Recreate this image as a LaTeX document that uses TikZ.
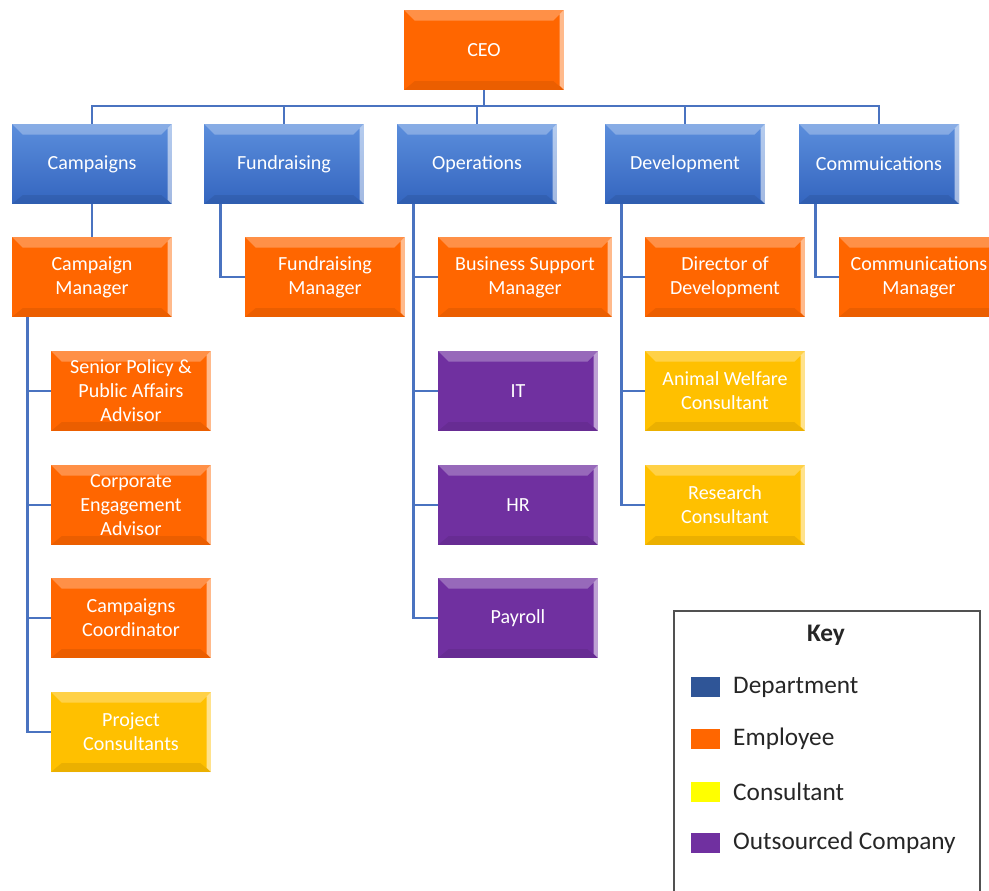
\documentclass[tikz,border=0pt]{standalone}
\usepackage{fontspec}
\setmainfont{Carlito}
\usetikzlibrary{positioning}

\definecolor{depttop}{HTML}{5B8EDC}
\definecolor{deptbot}{HTML}{3465BF}
\definecolor{emporange}{HTML}{FF6600}
\definecolor{consamber}{HTML}{FFC000}
\definecolor{outpurple}{HTML}{7030A0}
\definecolor{linkblue}{HTML}{4A73C0}
\definecolor{keyblue}{HTML}{2F5597}
\definecolor{keyyellow}{HTML}{FFFF00}
\definecolor{keytext}{HTML}{262626}

\tikzset{
  bevel/.style={path picture={
    \fill[white,opacity=.28] (path picture bounding box.north west) -- (path picture bounding box.north east)
      -- ([shift={(-6pt,-6pt)}]path picture bounding box.north east) -- ([shift={(6pt,-6pt)}]path picture bounding box.north west) -- cycle;
    \fill[white,opacity=.55] (path picture bounding box.north east) -- (path picture bounding box.south east)
      -- ([shift={(-2.5pt,2.5pt)}]path picture bounding box.south east) -- ([shift={(-2.5pt,-2.5pt)}]path picture bounding box.north east) -- cycle;
    \fill[black,opacity=.08] (path picture bounding box.south west) -- (path picture bounding box.south east)
      -- ([shift={(-6pt,5pt)}]path picture bounding box.south east) -- ([shift={(6pt,5pt)}]path picture bounding box.south west) -- cycle;
  }},
  orgbox/.style={rectangle, minimum width=3.2cm, minimum height=1.6cm, inner sep=1pt, align=center,
    text=white, font=\fontsize{11.4}{13.6}\selectfont, bevel},
  deptbox/.style={orgbox, top color=depttop, bottom color=deptbot},
  empbox/.style={orgbox, fill=emporange},
  consbox/.style={orgbox, fill=consamber},
  outbox/.style={orgbox, fill=outpurple},
  link/.style={draw=linkblue, line width=1.6pt},
  keyswatch/.style={rectangle, minimum width=0.58cm, minimum height=0.4cm, inner sep=0pt},
  keylabel/.style={inner sep=0pt, anchor=west, text=keytext, font=\fontsize{14.4}{16}\selectfont},
}

\begin{document}
\begin{tikzpicture}[x=0.02cm, y=-0.02cm]
    \useasboundingbox (0,0) rectangle (989,891);

    % top of the chart
    \node[empbox] (ceo) at (484,50) {CEO};

    % departments
    \node[deptbox] (camp) at (92,164)  {Campaigns};
    \node[deptbox] (fund) at (284,164) {Fundraising};
    \node[deptbox] (oper) at (477,164) {Operations};
    \node[deptbox] (dev)  at (685,164) {Development};
    \node[deptbox] (comm) at (879,164) {Commuications};

    % managers
    \node[empbox] (campm) at (92,277)  {Campaign\\Manager};
    \node[empbox] (fundm) at (325,277) {Fundraising\\Manager};
    \node[empbox, minimum width=3.48cm] (bsm) at (525,277) {Business Support\\Manager};
    \node[empbox] (devm)  at (725,277) {Director of\\Development};
    \node[empbox] (commm) at (919,277) {Communications\\Manager};

    % campaigns team
    \node[empbox]  (policy) at (131,391) {Senior Policy \&\\Public Affairs\\Advisor};
    \node[empbox]  (corp)   at (131,505) {Corporate\\Engagement\\Advisor};
    \node[empbox]  (coord)  at (131,618) {Campaigns\\Coordinator};
    \node[consbox] (proj)   at (131,732) {Project\\Consultants};

    % operations team
    \node[outbox] (it)      at (518,391) {IT};
    \node[outbox] (hr)      at (518,505) {HR};
    \node[outbox] (payroll) at (518,618) {Payroll};

    % development team
    \node[consbox] (animal)   at (725,391) {Animal Welfare\\Consultant};
    \node[consbox] (research) at (725,505) {Research\\Consultant};

    % connectors
    \coordinate (bus) at (484,106);
    \draw[link] (ceo) -- (bus);
    \foreach \d in {camp,fund,oper,dev,comm}
        \draw[link] (bus) -| (\d.north);

    \draw[link] (camp) -- (campm);
    \draw[link] ([xshift=0.34cm]fund.south west) |- (fundm.west);
    \draw[link] ([xshift=0.34cm]comm.south west) |- (commm.west);
    \foreach \c in {bsm,it,hr,payroll}
        \draw[link] ([xshift=0.34cm]oper.south west) |- (\c.west);
    \foreach \c in {devm,animal,research}
        \draw[link] ([xshift=0.34cm]dev.south west) |- (\c.west);
    \foreach \c in {policy,corp,coord,proj}
        \draw[link] ([xshift=0.32cm]campm.south west) |- (\c.west);

    % the key
    \draw[line width=0.9pt, draw=keytext!80] (674,611) rectangle (980,900);
    \node[font=\fontsize{14.4}{16}\bfseries, text=keytext] (keytitle) at (826,635) {Key};
    \node[keyswatch, fill=keyblue]   (kdept) at (705,687) {};
    \node[keyswatch, fill=emporange] (kemp)  at (705,739) {};
    \node[keyswatch, fill=keyyellow] (kcons) at (705,792) {};
    \node[keyswatch, fill=outpurple] (kout)  at (705,843) {};
    \node[keylabel, right=0.26cm of kdept] {Department};
    \node[keylabel, right=0.26cm of kemp]  {Employee};
    \node[keylabel, right=0.26cm of kcons] {Consultant};
    \node[keylabel, right=0.26cm of kout]  {Outsourced Company};
\end{tikzpicture}
\end{document}
